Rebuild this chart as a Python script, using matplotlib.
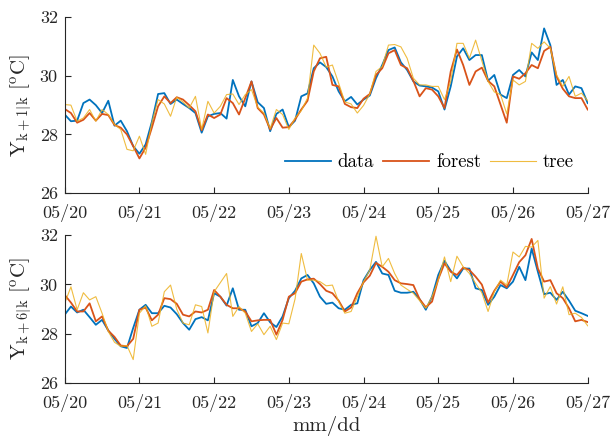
import numpy as np
import pandas as pd
import matplotlib
matplotlib.use('Agg')
import matplotlib.pyplot as plt
import matplotlib.dates as mdates

plt.rcParams['font.family'] = 'cmr10'
plt.rcParams['mathtext.fontset'] = 'cm'
plt.rcParams['axes.formatter.use_mathtext'] = True
plt.rcParams['font.size'] = 12.5

# 2-hourly samples, 05/20 00:00 -> 05/27 00:00
times = pd.date_range('2020-05-20', periods=85, freq='2h')

top_data = [28.68, 28.45, 28.47, 29.07, 29.19, 29.0, 28.73, 29.15, 28.3, 28.47,
            28.11, 27.6, 27.34, 27.66, 28.43, 29.38, 29.41, 29.04, 29.19, 29.04,
            28.9, 28.73, 28.06, 28.62, 28.7, 28.73, 28.54, 29.86, 29.3, 28.96,
            29.81, 29.1, 28.9, 28.11, 28.7, 28.85, 28.25, 28.47, 29.3, 29.4,
            30.26, 30.46, 30.3, 29.98, 29.47, 29.13, 29.28, 29.02, 29.19, 29.33,
            29.92, 30.37, 30.88, 30.97, 30.46, 30.2, 29.81, 29.67, 29.64, 29.6,
            29.47, 28.85, 29.64, 30.66, 30.94, 30.54, 30.71, 30.71, 29.83, 30.03,
            29.36, 29.24, 30.03, 30.2, 29.98, 30.8, 30.54, 31.62, 31.05, 29.69,
            29.86, 29.36, 29.64, 29.58, 29.07]
top_forest = [28.87, 28.73, 28.4, 28.5, 28.73, 28.47, 28.7, 28.66, 28.32, 28.23,
              28.0, 27.6, 27.18, 27.55, 28.23, 28.96, 29.3, 29.07, 29.27, 29.19,
              29.0, 28.79, 28.14, 28.68, 28.56, 28.68, 29.24, 29.07, 28.68, 29.24,
              29.81, 28.9, 28.68, 28.17, 28.56, 28.23, 28.25, 28.51, 28.85, 29.15,
              30.15, 30.6, 30.65, 29.69, 29.64, 29.04, 28.93, 28.9, 29.22, 29.38,
              30.03, 30.26, 30.77, 30.88, 30.37, 30.26, 29.83, 29.3, 29.58, 29.53,
              29.3, 28.9, 30.15, 30.9, 30.37, 29.69, 30.15, 30.28, 29.83, 29.64,
              29.02, 28.4, 29.98, 29.9, 30.09, 30.37, 30.26, 30.85, 30.99, 29.98,
              29.56, 29.3, 29.24, 29.24, 28.85]
top_tree = [29.02, 29.0, 28.45, 28.56, 28.85, 28.45, 28.85, 28.68, 28.34, 28.17,
            27.49, 27.44, 27.94, 27.32, 28.4, 29.19, 29.04, 28.62, 29.27, 29.11,
            28.9, 29.3, 28.17, 29.13, 28.73, 28.96, 29.36, 29.38, 29.02, 29.36,
            29.53, 28.93, 28.73, 28.2, 28.85, 28.68, 28.17, 28.56, 28.81, 29.24,
            31.05, 30.77, 30.3, 30.37, 29.75, 29.11, 29.04, 28.73, 28.99, 29.38,
            30.15, 30.32, 31.05, 31.07, 30.99, 30.6, 29.92, 29.69, 29.69, 29.64,
            29.64, 29.19, 29.81, 31.11, 31.11, 30.6, 31.22, 30.51, 29.81, 29.45,
            29.36, 28.7, 29.86, 29.69, 29.81, 31.11, 30.94, 31.16, 30.94, 30.03,
            29.64, 29.98, 29.3, 29.41, 29.15]

bot_data = [28.77, 29.1, 28.86, 28.97, 28.67, 28.36, 28.56, 28.13, 27.79, 27.49,
            27.42, 28.23, 28.97, 29.17, 28.83, 28.83, 29.13, 29.06, 28.79, 28.43,
            28.16, 28.59, 28.67, 28.54, 29.64, 29.5, 29.14, 29.84, 28.97, 28.97,
            28.3, 28.43, 28.83, 28.46, 28.27, 28.7, 29.44, 29.74, 30.24, 30.38,
            30.04, 29.5, 29.21, 29.26, 29.03, 28.97, 29.17, 29.23, 30.17, 30.58,
            30.91, 30.44, 30.38, 29.74, 29.66, 29.66, 29.7, 29.4, 28.97, 29.5,
            30.38, 30.95, 30.55, 30.24, 30.64, 30.64, 29.84, 29.77, 29.17, 29.5,
            29.97, 29.84, 30.11, 30.71, 30.17, 31.45, 30.51, 29.6, 29.66, 29.37,
            29.7, 29.34, 28.93, 28.83, 28.72]
bot_forest = [29.57, 29.26, 28.9, 28.9, 29.23, 28.5, 28.7, 28.12, 27.87, 27.52,
              27.49, 27.79, 28.97, 29.06, 28.54, 28.77, 29.44, 29.4, 29.21, 28.77,
              28.7, 28.9, 28.86, 28.97, 29.77, 29.5, 29.17, 29.03, 29.03, 28.9,
              28.5, 28.54, 28.56, 28.56, 27.96, 28.56, 29.5, 29.64, 30.11, 30.2,
              30.23, 30.01, 29.74, 29.64, 29.34, 28.9, 29.06, 29.64, 30.08, 30.35,
              30.87, 30.71, 30.51, 30.17, 30.04, 30.01, 29.97, 29.4, 29.07, 29.3,
              30.21, 30.85, 30.51, 30.38, 30.68, 30.58, 30.31, 29.99, 29.26, 29.74,
              30.11, 29.88, 30.38, 30.9, 31.18, 31.84, 30.64, 30.11, 30.17, 29.64,
              29.44, 29.03, 28.5, 28.56, 28.47]
bot_tree = [29.23, 29.9, 28.97, 29.66, 29.37, 29.5, 28.83, 28.09, 27.65, 27.49,
            27.52, 26.95, 28.83, 29.13, 28.3, 28.43, 29.7, 29.97, 28.99, 28.43,
            28.36, 29.17, 29.1, 28.03, 29.7, 30.07, 30.44, 28.7, 29.1, 28.83,
            28.09, 28.4, 27.96, 28.3, 27.76, 28.43, 28.4, 29.41, 31.25, 30.17,
            30.17, 30.11, 29.94, 29.97, 29.3, 28.83, 28.9, 29.5, 30.11, 30.58,
            31.95, 30.71, 31.05, 30.44, 29.97, 29.8, 29.64, 29.34, 29.03, 29.5,
            30.17, 31.11, 30.11, 31.14, 30.71, 30.44, 30.04, 29.66, 28.9, 29.7,
            30.17, 29.97, 31.31, 31.11, 31.54, 31.51, 31.78, 29.44, 29.91, 29.2,
            29.9, 28.77, 28.83, 28.66, 28.32]

blue = '#0072BD'
orange = '#D95319'
yellow = '#EDB120'

fig = plt.figure(figsize=(6.15, 4.41), dpi=100)
ax1 = fig.add_axes([0.1052, 0.5624, 0.8504, 0.3984])
ax2 = fig.add_axes([0.1052, 0.1315, 0.8504, 0.3356])

panels = [(ax1, top_data, top_forest, top_tree, r'$\mathrm{Y}_{\mathrm{k+1|k}}\ [^{\mathrm{o}}\mathrm{C}]$'),
          (ax2, bot_data, bot_forest, bot_tree, r'$\mathrm{Y}_{\mathrm{k+6|k}}\ [^{\mathrm{o}}\mathrm{C}]$')]

for ax, d, f, t, lab in panels:
    ax.plot(times, d, color=blue, lw=1.3, label='data')
    ax.plot(times, f, color=orange, lw=1.3, label='forest')
    ax.plot(times, t, color=yellow, lw=0.8, alpha=0.85, label='tree')
    ax.set_ylim(26, 32)
    ax.set_yticks([26, 28, 30, 32])
    ax.set_yticklabels(['26', '28', '30', '32'])
    ax.set_xlim(times[0], times[-1])
    ax.xaxis.set_major_locator(mdates.DayLocator())
    ax.xaxis.set_major_formatter(mdates.DateFormatter('%m/%d'))
    ax.spines['top'].set_visible(False)
    ax.spines['right'].set_visible(False)
    for s in ['left', 'bottom']:
        ax.spines[s].set_color('#262626')
        ax.spines[s].set_linewidth(0.8)
    ax.tick_params(direction='in', length=4, width=0.8, color='#262626',
                   labelcolor='#262626')
    ax.tick_params(axis='x', pad=8, labelsize=13)
    ax.tick_params(axis='y', pad=5, labelsize=13)
    ax.set_ylabel(lab, color='#262626', labelpad=4, fontsize=15)

ax1.legend(loc='center right', bbox_to_anchor=(0.995, 0.175), ncol=3, frameon=False,
           fontsize=13.5, handlelength=2.45, columnspacing=0.5, handletextpad=0.35,
           borderaxespad=0.2)
ax2.set_xlabel('mm/dd', color='#262626', labelpad=3, fontsize=15)

fig.savefig('out.png', dpi=100)
